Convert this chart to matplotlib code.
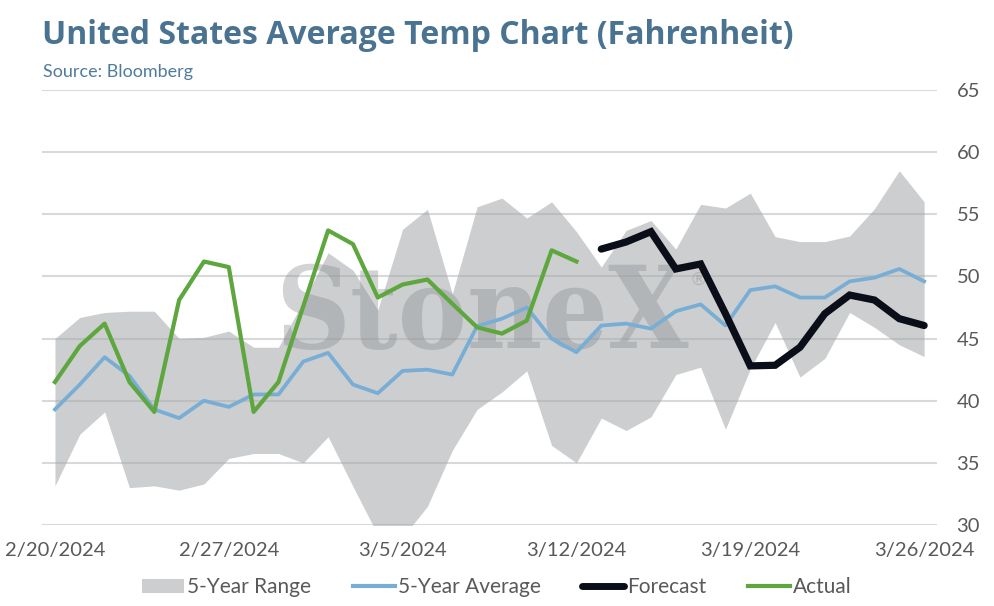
import matplotlib
matplotlib.use('Agg')
import matplotlib.pyplot as plt
from matplotlib.patches import Patch
from matplotlib.lines import Line2D
import pandas as pd

plt.rcParams['font.family'] = ['Lato', 'DejaVu Sans']

# dados diarios
datas = pd.date_range('2024-02-20', '2024-03-26', freq='D')
media_5a = [39.3, 41.3, 43.5, 42.0, 39.3, 38.6, 40.0, 39.5, 40.5, 40.5, 43.15, 43.85,
            41.3, 40.6, 42.4, 42.5, 42.1, 46.0, 46.6, 47.5, 45.0, 43.9, 46.05, 46.2,
            45.8, 47.2, 47.75, 46.05, 48.9, 49.2, 48.3, 48.3, 49.6, 49.9, 50.6, 49.6]
maximo_5a = [45.0, 46.7, 47.1, 47.2, 47.2, 45.0, 45.1, 45.6, 44.3, 44.3, 48.0, 51.9,
             50.5, 47.3, 53.8, 55.4, 48.6, 55.6, 56.3, 54.7, 56.0, 53.6, 50.75, 53.7,
             54.5, 52.2, 55.8, 55.5, 56.7, 53.2, 52.8, 52.8, 53.25, 55.45, 58.5, 56.0]
minimo_5a = [33.15, 37.3, 39.1, 33.0, 33.15, 32.8, 33.3, 35.35, 35.75, 35.75, 35.0, 37.1,
             33.1, 29.2, 29.0, 31.5, 36.0, 39.3, 40.7, 42.4, 36.4, 35.0, 38.6, 37.6,
             38.7, 42.1, 42.7, 37.7, 42.55, 46.3, 41.9, 43.4, 47.1, 45.9, 44.5, 43.55]
real = [41.5, 44.4, 46.2, 41.5, 39.1, 48.1, 51.2, 50.75, 39.1, 41.5, 47.6, 53.7,
        52.6, 48.3, 49.35, 49.75, 47.8, 45.9, 45.4, 46.45, 52.1, 51.2]
previsao = [52.2, 52.77, 53.6, 50.6, 51.0, 47.0, 42.8, 42.85, 44.3, 47.0, 48.5, 48.1,
            46.6, 46.05]
datas_tick = ['2024-02-20', '2024-02-27', '2024-03-05', '2024-03-12', '2024-03-19', '2024-03-26']
yticks = [30, 35, 40, 45, 50, 55, 60, 65]

cor_faixa = '#a4a9ab'
cor_media = '#78aed6'
cor_prev = '#0a0e18'
cor_real = '#5ea63e'
cor_texto = '#595959'

fig = plt.figure(figsize=(9.94, 6.06), dpi=100)
ax = fig.add_axes([0.0423, 0.1337, 0.9004, 0.7178])

x = list(range(len(datas)))
ax.fill_between(x, minimo_5a, maximo_5a, color=cor_faixa, alpha=0.56, lw=0, zorder=1)
ax.plot(x, media_5a, color=cor_media, lw=2.7, zorder=3)
ax.plot(x[:len(real)], real, color=cor_real, lw=3.0, zorder=4)
ax.plot(x[len(real):], previsao, color=cor_prev, lw=5.2, zorder=5,
        solid_capstyle='round', solid_joinstyle='miter')

# marca d'agua
ax.text(17.2, 44.27, 'StoneX', fontsize=83, family='DejaVu Serif', fontweight='bold',
        fontstretch='condensed', color='#8a8d90', alpha=0.38, ha='center',
        va='baseline', zorder=2)
ax.text(25.9, 49.7, '®', fontsize=13, family='DejaVu Sans',
        color='#8a8d90', alpha=0.38, ha='center', va='center', zorder=2)

ax.set_xlim(-0.52, len(datas) - 0.48)
ax.set_ylim(30, 65)
ax.set_yticks(yticks)
ax.yaxis.tick_right()
ax.grid(axis='y', color='#d9d9d9', lw=1.5, zorder=0)
ax.set_axisbelow(True)
for s in ax.spines.values():
    s.set_visible(False)

pos = [list(datas.strftime('%Y-%m-%d')).index(d) for d in datas_tick]
ax.set_xticks(pos)
ax.set_xticklabels([f'{datas[p].month}/{datas[p].day}/{datas[p].year}' for p in pos])
ax.tick_params(axis='both', length=0, labelsize=14.5, labelcolor=cor_texto)
ax.tick_params(axis='x', pad=12)
ax.tick_params(axis='y', pad=14)

fig.text(0.0423, 0.942, 'United States Average Temp Chart (Fahrenheit)', fontsize=23,
         family='Open Sans', fontweight='bold', color='#4a7391', va='center')
fig.text(0.0433, 0.882, 'Source: Bloomberg', fontsize=13, color='#4f7c9c', va='center')

handles = [Patch(color=cor_faixa, alpha=0.56, lw=0),
           Line2D([], [], color=cor_media, lw=3),
           Line2D([], [], color=cor_prev, lw=5, solid_capstyle='round'),
           Line2D([], [], color=cor_real, lw=3)]
fig.legend(handles, ['5-Year Range', '5-Year Average', 'Forecast', 'Actual'],
           loc='center', bbox_to_anchor=(0.5, 0.031), ncol=4, frameon=False,
           fontsize=15, labelcolor=cor_texto, handlelength=2.0, handletextpad=0.15,
           columnspacing=2.0)

fig.savefig('out.png', dpi=100)
